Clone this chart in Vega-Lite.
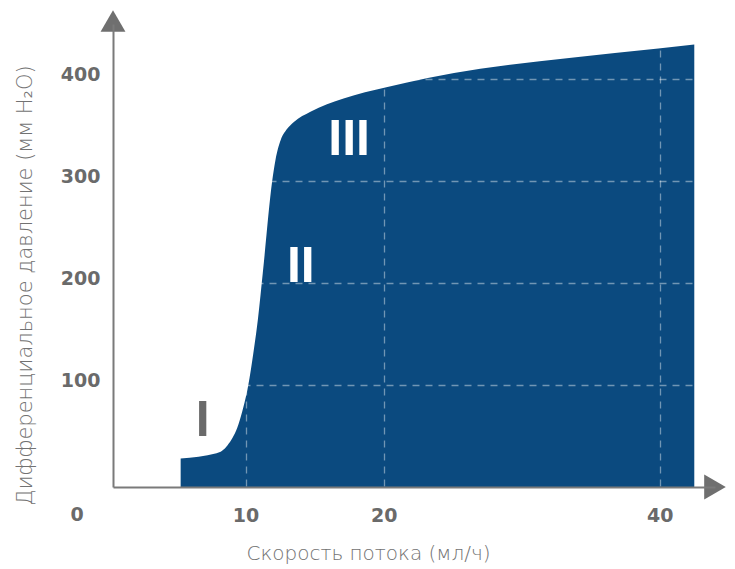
{
  "$schema": "https://vega.github.io/schema/vega-lite/v6.json",
  "width": 602,
  "height": 463,
  "autosize": {"type": "none"},
  "padding": {"left": 113, "top": 24, "right": 20, "bottom": 82},
  "background": "white",
  "config": {"view": {"stroke": null}},
  "datasets": {
    "curve": [
      {"flow": 5.3, "pressure": 28},
      {"flow": 7.9, "pressure": 33},
      {"flow": 8.3, "pressure": 35.5},
      {"flow": 8.7, "pressure": 41},
      {"flow": 9.05, "pressure": 48},
      {"flow": 9.4, "pressure": 58},
      {"flow": 9.76, "pressure": 74},
      {"flow": 10.2, "pressure": 100},
      {"flow": 10.55, "pressure": 130},
      {"flow": 10.9, "pressure": 165},
      {"flow": 11.25, "pressure": 210},
      {"flow": 11.93, "pressure": 300},
      {"flow": 12.17, "pressure": 321},
      {"flow": 12.54, "pressure": 340},
      {"flow": 13.0, "pressure": 351},
      {"flow": 13.5, "pressure": 358},
      {"flow": 14.7, "pressure": 368},
      {"flow": 17.1, "pressure": 381},
      {"flow": 20.2, "pressure": 392},
      {"flow": 23.2, "pressure": 401},
      {"flow": 27.0, "pressure": 410},
      {"flow": 33.6, "pressure": 421},
      {"flow": 39.9, "pressure": 430},
      {"flow": 42.5, "pressure": 434}
    ],
    "arrows": [
      {"flow": 0.4, "pressure": 457, "shape": "triangle-up"},
      {"flow": 44, "pressure": 0, "shape": "triangle-right"}
    ],
    "origin": [{"flow": -2.2, "pressure": -27.5, "label": "0"}],
    "zones": [
      {"flow": 6.9, "pressure": 68, "label": "I", "tone": "out"},
      {"flow": 14.0, "pressure": 219, "label": "II", "tone": "in"},
      {"flow": 17.5, "pressure": 343, "label": "III", "tone": "in"}
    ]
  },
  "layer": [
    {
      "data": {"name": "curve"},
      "mark": {"type": "area", "interpolate": "monotone", "color": "#0b4a7f"},
      "encoding": {
        "x": {
          "field": "flow",
          "type": "quantitative",
          "scale": {"domain": [0.4, 44], "nice": false, "zero": false},
          "axis": {
            "values": [10, 20, 40],
            "zindex": 1,
            "title": "Скорость потока (мл/ч)",
            "titleX": 255,
            "titleY": 66,
            "titleAlign": "center",
            "titleBaseline": "middle",
            "titleFont": "DejaVu Sans",
            "titleFontWeight": 300,
            "titleFontSize": 20,
            "titleColor": "#727272",
            "labelFont": "DejaVu Sans",
            "labelFontWeight": "bold",
            "labelFontSize": 19,
            "labelColor": "#6a6a6a",
            "labelPadding": 19,
            "labelBaseline": "top",
            "ticks": false,
            "tickSize": 0,
            "domainColor": "#7a7a7a",
            "domainWidth": 2,
            "grid": true,
            "gridColor": "white",
            "gridOpacity": 0.42,
            "gridDash": [7, 6],
            "gridWidth": 1.3
          }
        },
        "y": {
          "field": "pressure",
          "type": "quantitative",
          "scale": {"domain": [0, 454], "nice": false},
          "axis": {
            "values": [100, 200, 300, 400],
            "zindex": 1,
            "title": "Дифференциальное давление (мм H₂O)",
            "titleX": -88,
            "titleY": 261,
            "titleAngle": -90,
            "titleAlign": "center",
            "titleBaseline": "middle",
            "titleFont": "DejaVu Sans",
            "titleFontWeight": 300,
            "titleFontSize": 21,
            "titleColor": "#727272",
            "labelFont": "DejaVu Sans",
            "labelFontWeight": "bold",
            "labelFontSize": 19,
            "labelColor": "#6a6a6a",
            "labelPadding": 13,
            "labelOffset": -5,
            "ticks": false,
            "tickSize": 0,
            "domainColor": "#7a7a7a",
            "domainWidth": 2,
            "grid": true,
            "gridColor": "white",
            "gridOpacity": 0.42,
            "gridDash": [7, 6],
            "gridWidth": 1.3
          }
        }
      }
    },
    {
      "data": {"name": "arrows"},
      "mark": {"type": "point", "filled": true, "size": 620, "color": "#6f6f6f", "opacity": 1},
      "encoding": {
        "x": {"field": "flow", "type": "quantitative"},
        "y": {"field": "pressure", "type": "quantitative"},
        "shape": {"field": "shape", "type": "nominal", "scale": {"domain": ["triangle-up", "triangle-right"], "range": ["triangle-up", "triangle-right"]}, "legend": null}
      }
    },
    {
      "data": {"name": "origin"},
      "mark": {"type": "text", "font": "DejaVu Sans", "fontWeight": "bold", "fontSize": 19, "color": "#6a6a6a", "baseline": "middle", "align": "center"},
      "encoding": {
        "x": {"field": "flow", "type": "quantitative"},
        "y": {"field": "pressure", "type": "quantitative"},
        "text": {"field": "label"}
      }
    },
    {
      "data": {"name": "zones"},
      "mark": {"type": "text", "font": "Liberation Sans Narrow, Liberation Sans", "fontWeight": "bold", "fontSize": 50, "baseline": "middle", "align": "center", "dy": 3},
      "encoding": {
        "x": {"field": "flow", "type": "quantitative"},
        "y": {"field": "pressure", "type": "quantitative"},
        "text": {"field": "label"},
        "color": {"field": "tone", "type": "nominal", "scale": {"domain": ["out", "in"], "range": ["#6a6a6a", "#ffffff"]}, "legend": null}
      }
    }
  ]
}
